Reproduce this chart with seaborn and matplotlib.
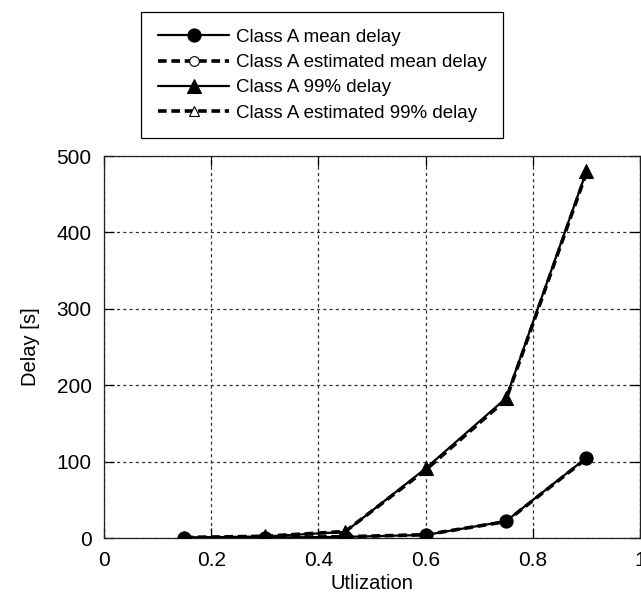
import matplotlib
matplotlib.use("Agg")
import matplotlib.pyplot as plt
import seaborn as sns
import pandas as pd

# Utilization levels and measured / estimated delays for class A traffic
utilization = [0.15, 0.30, 0.45, 0.60, 0.75, 0.90]
mean_delay = [0.3, 0.6, 1.5, 4.0, 22.0, 105.0]
est_mean_delay = [0.3, 0.7, 1.7, 4.3, 21.5, 104.0]
p99_delay = [0.6, 2.0, 8.0, 91.0, 183.0, 480.0]
est_p99_delay = [0.7, 2.3, 8.5, 89.0, 181.0, 478.0]

x_ticks = [0, 0.2, 0.4, 0.6, 0.8, 1.0]
x_tick_labels = ["0", "0.2", "0.4", "0.6", "0.8", "1"]
y_ticks = [0, 100, 200, 300, 400, 500]

series_labels = [
    "Class A mean delay",
    "Class A estimated mean delay",
    "Class A 99% delay",
    "Class A estimated 99% delay",
]

sns.set_theme(style="ticks")
plt.rcParams["font.family"] = ["Liberation Sans", "DejaVu Sans"]
plt.rcParams["font.size"] = 14
plt.rcParams["text.color"] = "black"
plt.rcParams["axes.labelcolor"] = "black"

fig = plt.figure(figsize=(6.41, 6.04), dpi=100)
ax = fig.add_axes([104 / 641, 66 / 604, 536 / 641, 382 / 604])

df = pd.DataFrame({
    "u": utilization,
    "mean": mean_delay,
    "est_mean": est_mean_delay,
    "p99": p99_delay,
    "est_p99": est_p99_delay,
})

dash = (0, (2.4, 1.3))

# measured curves: solid lines with filled markers
sns.lineplot(data=df, x="u", y="mean", ax=ax, color="black", linewidth=1.6,
             marker="o", markersize=9.5, markeredgecolor="black",
             markerfacecolor="black", label=series_labels[0], zorder=3)
# estimated curves: thick dashed lines with hollow markers
sns.lineplot(data=df, x="u", y="est_mean", ax=ax, color="black", linewidth=2.6,
             linestyle=dash, marker="o", markersize=7, markeredgewidth=0.8,
             markeredgecolor="black", markerfacecolor="white",
             label=series_labels[1], zorder=4)
sns.lineplot(data=df, x="u", y="p99", ax=ax, color="black", linewidth=1.6,
             marker="^", markersize=9.5, markeredgecolor="black",
             markerfacecolor="black", label=series_labels[2], zorder=3)
sns.lineplot(data=df, x="u", y="est_p99", ax=ax, color="black", linewidth=2.6,
             linestyle=dash, marker="^", markersize=7, markeredgewidth=0.8,
             markeredgecolor="black", markerfacecolor="white",
             label=series_labels[3], zorder=4)

# keep the filled measured markers on top of the dashed estimates
for line in ax.lines:
    if line.get_label() in (series_labels[0], series_labels[2]):
        line.set_zorder(5)

ax.set_xlim(0, 1)
ax.set_ylim(0, 500)
ax.set_xticks(x_ticks)
ax.set_xticklabels(x_tick_labels)
ax.set_yticks(y_ticks)

ax.grid(True, linestyle=(0, (2.5, 2.5)), color="#333333", linewidth=0.9)
ax.set_axisbelow(True)
ax.tick_params(direction="in", length=7, width=0.9, top=True, right=True,
               labelsize=15, colors="black", pad=9)
for sp in ax.spines.values():
    sp.set_visible(True)
    sp.set_linewidth(0.9)
    sp.set_color("#222222")

ax.set_xlabel("Utlization", fontsize=14.5, labelpad=3, color="black")
ax.set_ylabel("Delay [s]", fontsize=14.5, labelpad=12, color="black")

leg = ax.legend(loc="upper left", bbox_to_anchor=(141 / 641, 1 - 12 / 604),
                bbox_transform=fig.transFigure, fontsize=13.5, frameon=True,
                fancybox=False, edgecolor="black", framealpha=1,
                handlelength=3.8, handletextpad=0.35, labelspacing=0.43,
                borderpad=0.9, borderaxespad=0)
leg.get_frame().set_linewidth(0.9)
for t in leg.get_texts():
    t.set_color("black")

fig.savefig("out.png", dpi=100)
